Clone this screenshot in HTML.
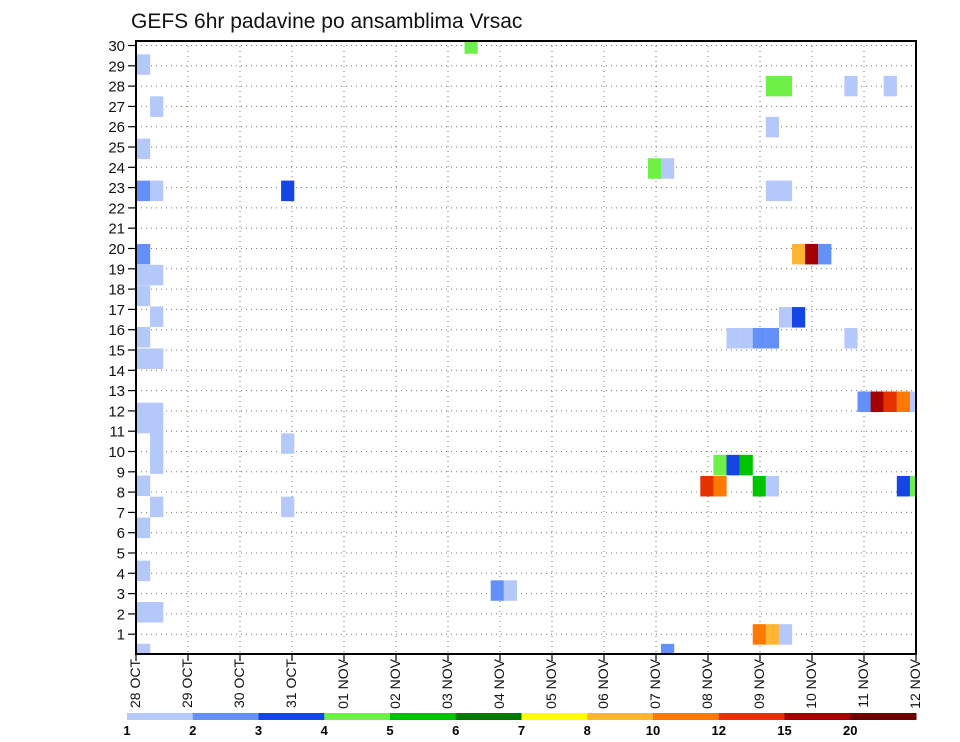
<!DOCTYPE html>
<html><head><meta charset="utf-8"><style>
html,body{margin:0;padding:0;background:#fff;}
svg{display:block;font-family:"Liberation Sans",sans-serif;}
</style></head><body>
<svg id="chart" width="960" height="742" viewBox="0 0 960 742" xmlns="http://www.w3.org/2000/svg">
<text x="131" y="28" font-size="21" fill="#111">GEFS 6hr padavine po ansamblima Vrsac</text>
<g id="grid"></g>
<g id="cells" clip-path="url(#plotclip)"></g>
<defs><clipPath id="plotclip"><rect x="136" y="41" width="780" height="613"/></clipPath></defs>
<rect x="136" y="41" width="780" height="613" fill="none" stroke="#000" stroke-width="2"/>
<g id="axes"></g>
<g id="colorbar"></g>
</svg>
<script>
const dayLabels = ["28 OCT","29 OCT","30 OCT","31 OCT","01 NOV","02 NOV","03 NOV","04 NOV","05 NOV","06 NOV","07 NOV","08 NOV","09 NOV","10 NOV","11 NOV","12 NOV"];
const memberTicks = [1,2,3,4,5,6,7,8,9,10,11,12,13,14,15,16,17,18,19,20,21,22,23,24,25,26,27,28,29,30];
const cellCols = [25,0,48,49,54,57,1,48,0,39,40,0,1,11,48,49,0,50,51,52,0,1,0,1,49,50,0,45,46,47,48,54,0,1,55,56,57,58,59,0,0,1,1,1,1,11,44,45,46,0,43,44,47,48,58,59,1,11,0,0,27,28,0,1,47,48,49,0,40];
const cellRows = [30.1,29.06,28,28,28,28,26.99,25.98,24.91,23.94,23.94,22.84,22.84,22.84,22.84,22.84,19.72,19.72,19.72,19.72,18.69,18.69,17.67,16.64,16.61,16.61,15.63,15.58,15.58,15.58,15.58,15.58,14.57,14.57,12.45,12.45,12.45,12.45,12.45,11.9,11.4,11.9,10.9,9.9,9.4,10.39,9.33,9.33,9.33,8.31,8.29,8.29,8.29,8.29,8.29,8.29,7.27,7.27,6.24,4.12,3.15,3.15,2.08,2.08,0.99,0.99,0.99,0.02,0.02];
const cellValues = [4.5,1.5,4.5,4.5,1.5,1.5,1.5,1.5,1.5,4.5,1.5,2.5,1.5,3.5,1.5,1.5,2.5,9,17,2.5,1.5,1.5,1.5,1.5,1.5,3.5,1.5,1.5,1.5,2.5,2.5,1.5,1.5,1.5,2.5,17,13,11,1.5,1.5,1.5,1.5,1.5,1.5,1.5,1.5,4.5,3.5,5.5,1.5,13,11,5.5,1.5,3.5,4.5,1.5,1.5,1.5,1.5,2.5,1.5,1.5,1.5,11,9,1.5,1.5,2.5];
const levelBounds = [1,2,3,4,5,6,7,8,10,12,15,20,30];
const levelLabels = ["1","2","3","4","5","6","7","8","10","12","15","20"];
const levelColors = ["#b4c8fa","#6490fa","#1446e6","#6ef046","#00c300","#007800","#ffff00","#ffb432","#ff7800","#e63200","#a50000","#6e0000"];

const NS="http://www.w3.org/2000/svg";
function mk(t,a,p){const e=document.createElementNS(NS,t);for(const k in a)e.setAttribute(k,a[k]);p.appendChild(e);return e;}
const X0=136,X1=916,Y0=654.5,ROW=20.3;
const xDay=d=>X0+d*(X1-X0)/15;
const xCol=c=>137+c*13.1;
const yRow=v=>Y0-v*ROW;
function colorFor(v){for(let i=0;i<levelColors.length;i++){if(v<levelBounds[i+1])return levelColors[i];}return levelColors[levelColors.length-1];}

const grid=document.getElementById('grid');
for(let i=1;i<dayLabels.length-1;i++){
  const l=mk('line',{x1:xDay(i),x2:xDay(i),y1:41,y2:654,stroke:"#777","stroke-width":1,"stroke-dasharray":"1,4"},grid);
  
  
}
memberTicks.forEach(m=>{
  const l=mk('line',{x1:136,x2:916,y1:yRow(m),y2:yRow(m),stroke:"#777","stroke-width":1,"stroke-dasharray":"1,4"},grid);
  
  
});

const cg=document.getElementById('cells');
for(let i=0;i<cellCols.length;i++){
  const r=mk('rect',{x:xCol(cellCols[i]),y:yRow(cellRows[i])-10.25,width:13.2,height:20.5,fill:colorFor(cellValues[i])},cg);
  
  
}

const ax=document.getElementById('axes');
memberTicks.forEach(m=>{
  const y=yRow(m);
  const t=mk('line',{x1:128,x2:136,y1:y,y2:y,stroke:"#000","stroke-width":1.2},ax);
  
  
  const tx=mk('text',{x:125,y:y+5.5,"font-size":15,"text-anchor":"end",fill:"#111"},ax);
  tx.textContent=m;
  
  
});
dayLabels.forEach((d,i)=>{
  const x=xDay(i);
  const t=mk('line',{x1:x,x2:x,y1:654,y2:661,stroke:"#000","stroke-width":1.2},ax);
  
  
  const tx=mk('text',{x:0,y:0,"font-size":14,"text-anchor":"end",fill:"#111",transform:`translate(${x+4},659) rotate(-90)`},ax);
  tx.textContent=d;
  
  
});

const cb=document.getElementById('colorbar');
const CB0=127,CBW=(916-127)/levelColors.length;
levelColors.forEach((c,i)=>{
  const r=mk('rect',{x:CB0+i*CBW,y:713,width:CBW+0.5,height:7,fill:c},cb);
  
  
});
levelLabels.forEach((l,i)=>{
  const t=mk('text',{x:CB0+i*CBW,y:735,"font-size":13,"font-weight":"bold","text-anchor":"middle",fill:"#000"},cb);
  t.textContent=l;
  
  
});
</script>
</body></html>
